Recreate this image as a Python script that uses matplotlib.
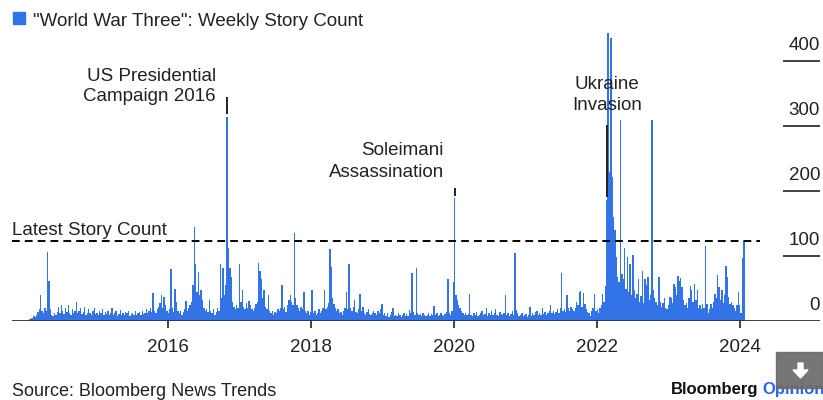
import matplotlib
matplotlib.use("Agg")
import matplotlib.pyplot as plt
import matplotlib.transforms as mtransforms
from matplotlib.patches import Rectangle, Polygon
import pandas as pd

plt.rcParams["font.family"] = ["Liberation Sans", "DejaVu Sans"]

# Weekly count of stories mentioning "World War Three", weeks ending on Sunday
first_week = "2014-01-26"
story_count = [
    # 2014
    3, 5, 4, 8, 6, 9, 14, 18, 40, 16, 12, 20, 15, 106, 62, 18, 10, 8, 12, 9, 14, 22, 12, 25, 16, 11,
    20, 14, 24, 12, 10, 18, 13, 15, 30, 12, 16, 20, 11, 14, 22, 10, 13, 18, 12, 9, 15, 20, 11, 13, 10, 16,
    # 2015
    12, 18, 9, 14, 11, 16, 10, 13, 20, 9, 12, 15, 8, 11, 17, 10, 13, 9, 14, 12, 16, 8, 11, 13, 10, 15,
    9, 12, 14, 10, 16, 11, 13, 18, 12, 15, 20, 14, 43, 16, 12, 18, 22, 28, 40, 20, 37, 24, 15, 12, 18, 80,
    # 2016
    20, 14, 50, 30, 16, 12, 15, 10, 14, 18, 31, 16, 20, 24, 30, 55, 145, 87, 45, 75, 40, 48, 32, 20, 15, 18,
    14, 32, 15, 12, 18, 10, 14, 20, 16, 87, 35, 82, 40, 55, 314, 112, 82, 68, 30, 22, 18, 25, 20, 88, 30, 48,
    # 2017
    22, 18, 28, 20, 31, 24, 18, 15, 20, 26, 30, 89, 77, 65, 35, 48, 22, 18, 40, 15, 12, 16, 10, 14, 12, 18,
    15, 20, 55, 18, 22, 14, 25, 32, 40, 30, 24, 135, 35, 25, 20, 16, 22, 18, 45, 15, 12, 16, 10, 14, 48, 12,
    # 2018
    16, 10, 13, 18, 12, 15, 20, 47, 18, 22, 28, 111, 83, 35, 26, 20, 15, 18, 12, 14, 10, 16, 20, 45, 18, 88,
    20, 15, 22, 32, 14, 12, 18, 41, 16, 22, 12, 10, 14, 18, 11, 9, 13, 16, 12, 10, 15, 12, 18, 26, 10, 13,
    # 2019
    8, 12, 6, 9, 14, 20, 8, 10, 7, 12, 9, 6, 10, 13, 8, 11, 7, 17, 12, 74, 14, 10, 82, 12, 9, 11,
    8, 12, 10, 7, 9, 13, 8, 11, 10, 23, 9, 12, 8, 10, 13, 9, 7, 11, 14, 64, 12, 9, 16, 60, 189, 40,
    # 2020
    32, 25, 20, 15, 12, 10, 13, 9, 11, 41, 10, 8, 12, 9, 14, 7, 10, 12, 16, 9, 11, 20, 8, 13, 10, 15,
    9, 12, 18, 10, 8, 14, 11, 9, 13, 40, 10, 12, 8, 11, 15, 9, 104, 17, 12, 8, 10, 13, 7, 9, 11, 6,
    # 2021
    10, 22, 8, 12, 9, 14, 16, 10, 13, 9, 20, 11, 14, 10, 12, 16, 25, 13, 15, 11, 14, 18, 12, 20, 74, 15,
    18, 14, 40, 20, 16, 22, 18, 15, 20, 30, 25, 44, 46, 22, 43, 26, 18, 14, 12, 8, 15, 20, 42, 16, 18, 12,
    # 2022
    20, 24, 42, 30, 54, 187, 443, 230, 435, 221, 160, 140, 99, 68, 60, 309, 73, 65, 112, 50, 99, 45, 88, 40, 101, 48,
    35, 42, 64, 30, 38, 77, 28, 64, 56, 67, 32, 40, 310, 48, 36, 30, 25, 67, 30, 22, 28, 36, 20, 18, 24, 37,
    # 2023
    35, 28, 57, 52, 40, 69, 62, 66, 52, 32, 24, 28, 20, 36, 54, 47, 30, 57, 32, 47, 20, 24, 18, 26, 20, 115,
    26, 13, 18, 26, 20, 30, 42, 36, 71, 52, 32, 47, 28, 40, 84, 67, 37, 26, 30, 24, 20, 15, 24, 45, 24, 13,
    # 2024
    97, 123,
]
weeks = pd.date_range(first_week, periods=len(story_count), freq="W-SUN")
latest_count = story_count[-1]

tick_years = [2016, 2018, 2020, 2022, 2024]
value_ticks = [0, 100, 200, 300, 400]

# Annotated events: week, label lines, top of leader line
event_weeks = ["2016-10-30", "2020-01-05", "2022-02-20"]
event_labels = [
    ["US Presidential", "Campaign 2016"],
    ["Soleimani", "Assassination"],
    ["Ukraine", "Invasion"],
]
event_leader_tops = [345, 205, 302]

BAR = "#3274E8"
INK = "#222222"
AXIS = "#333333"
FS = 13.5

fig = plt.figure(figsize=(8.23, 4.0), dpi=100)
ax = fig.add_axes([12 / 823, 79 / 400, 808 / 823, 291 / 400])
x_lo, x_hi = pd.Timestamp("2013-10-27"), pd.Timestamp("2025-02-13")
ax.set_xlim(x_lo, x_hi)
ax.set_ylim(0, 448)

ax.bar(weeks, story_count, width=7, color=BAR, linewidth=0, zorder=2)

for s in ax.spines.values():
    s.set_visible(False)
ax.axhline(0, color=AXIS, lw=1.3, zorder=3)

# Reference line at the most recent weekly count
ax.plot([x_lo, pd.Timestamp("2024-04-13")], [latest_count, latest_count],
        color="black", lw=1.4, dashes=(4, 2.6), zorder=4)
ax.text(x_lo, latest_count + 9, "Latest Story Count", fontsize=FS, color=INK,
        ha="left", va="baseline")

# Value scale on the right: short rules with labels above
blend = mtransforms.blended_transform_factory(ax.transAxes, ax.transData)
for v in value_ticks:
    if v > 0:
        ax.plot([pd.Timestamp("2024-08-08"), x_hi], [v, v], color=AXIS, lw=1.3,
                solid_capstyle="butt")
    ax.text(1.0, v + 17, str(v), transform=blend, ha="right", va="baseline",
            fontsize=FS, color=INK, clip_on=False)
ax.set_yticks([])

ax.set_xticks([pd.Timestamp(f"{y}-01-01") for y in tick_years])
ax.set_xticklabels([str(y) for y in tick_years])
ax.tick_params(axis="x", length=5, width=1.3, color=AXIS, labelsize=FS,
               labelcolor=INK, pad=8)

# Event annotations
label_x = ["2016-09-02", "2019-11-11", "2022-02-20"]
label_ha = ["right", "right", "center"]
label_base = [[369, 338], [255, 221], [357, 325]]
for wk, lines, top, lx, ha, bases in zip(event_weeks, event_labels, event_leader_tops,
                                        label_x, label_ha, label_base):
    t = pd.Timestamp(wk)
    h = story_count[list(weeks).index(t)]
    ax.plot([t, t], [h + 4, top], color=INK, lw=1.4, zorder=5, solid_capstyle="butt")
    for line, b in zip(lines, bases):
        ax.text(pd.Timestamp(lx), b, line, fontsize=FS, color=INK, ha=ha,
                va="baseline", zorder=6)

# Title with legend swatch
fig.patches.append(Rectangle((13 / 823, 376 / 400), 12 / 823, 12 / 400,
                             transform=fig.transFigure, color=BAR))
fig.text(33 / 823, 374 / 400, '"World War Three": Weekly Story Count',
         fontsize=FS, color=INK, ha="left", va="baseline")

fig.text(12 / 823, 4 / 400, "Source: Bloomberg News Trends", fontsize=13,
         color=INK, ha="left", va="baseline")

# Branding
fig.text(758 / 823, 6 / 400, "Bloomberg", fontsize=12, fontweight="bold",
         color="#111111", ha="right", va="baseline")
fig.text(762 / 823, 6 / 400, "Opinion", fontsize=12, fontweight="bold",
         color="#2B64F0", ha="left", va="baseline")

# Download button
fig.patches.append(Rectangle((776 / 823, 12 / 400), 47 / 823, 36 / 400,
                             transform=fig.transFigure, color="#6A6A6A", alpha=0.92,
                             zorder=10))
arrow = [(798, 37), (803, 37), (803, 30), (808, 30), (800.5, 22), (793, 30), (798, 30)]
fig.patches.append(Polygon([(x / 823, y / 400) for x, y in arrow], closed=True,
                           transform=fig.transFigure, color="white", zorder=11))

fig.savefig("out.png", dpi=100)
